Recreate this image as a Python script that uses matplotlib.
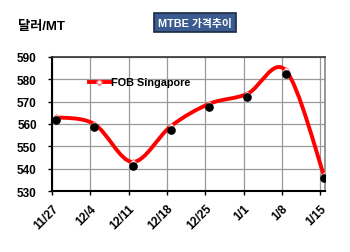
import matplotlib
matplotlib.use('Agg')
import matplotlib.pyplot as plt
from matplotlib.path import Path
from matplotlib.patches import PathPatch
from matplotlib.lines import Line2D
import numpy as np

dates = ['11/27', '12/4', '12/11', '12/18', '12/25', '1/1', '1/8', '1/15']
fob_line = [563, 560, 543, 559, 569, 573.5, 584, 537]      # smoothed red series
fob_marks = [562, 558.5, 541, 557.5, 567.5, 572, 582.5, 536]  # black markers

plt.rcParams['font.family'] = ['Liberation Sans', 'Noto Sans CJK KR', 'DejaVu Sans']

fig = plt.figure(figsize=(3.5, 2.53), dpi=100)
ax = fig.add_axes([0.149, 0.241, 0.78, 0.530])

x = np.arange(len(dates)) + 0.1

# smoothed line (Catmull-Rom -> cubic bezier, like excel smooth line)
pts = np.column_stack([x, fob_line])
ext = np.vstack([pts[0], pts, pts[-1]])
verts = [tuple(pts[0])]
codes = [Path.MOVETO]
for i in range(1, len(ext) - 2):
    p0, p1, p2, p3 = ext[i - 1], ext[i], ext[i + 1], ext[i + 2]
    c1 = p1 + (p2 - p0) / 6
    c2 = p2 - (p3 - p1) / 6
    verts += [tuple(c1), tuple(c2), tuple(p2)]
    codes += [Path.CURVE4] * 3
ax.add_patch(PathPatch(Path(verts, codes), fill=False, edgecolor='#ff0000', lw=2.8, zorder=3))
ax.plot(x, fob_line, ls='none', marker='D', ms=3, mfc='white', mec='#ff7777', mew=0.6, zorder=4)
ax.plot(x, fob_marks, ls='none', marker='o', ms=5.2, color='black', zorder=5)

ax.set_xlim(0, 7.13)
ax.set_ylim(530, 590)
ax.set_yticks(range(530, 591, 10))
ax.set_xticks(range(len(dates)))
ax.set_xticklabels(dates, rotation=45, ha='right', va='top', rotation_mode='anchor',
                   fontsize=8.5, fontweight='bold')
for lab in ax.get_yticklabels():
    lab.set_fontweight('bold')
    lab.set_fontsize(8.5)
ax.tick_params(axis='y', length=3, width=1, pad=8)
ax.tick_params(axis='x', length=3, width=1, pad=5)

ax.grid(True, color='#999999', lw=0.9)
ax.set_axisbelow(True)
ax.spines['top'].set_color('#333333')
ax.spines['top'].set_linewidth(1.2)
ax.spines['right'].set_color('#888888')
ax.spines['right'].set_linewidth(1.2)
for s in ['left', 'bottom']:
    ax.spines[s].set_color('black')
    ax.spines[s].set_linewidth(1.5)

handle = Line2D([], [], color='#ff0000', lw=2.8, marker='D', ms=3, mfc='white', mec='#ff7777')
ax.legend([handle], ['FOB Singapore'], loc='upper left', bbox_to_anchor=(0.1, 0.92),
          frameon=False, handlelength=1.9, handletextpad=0.15,
          prop={'weight': 'bold', 'size': 7.8})

fig.text(0.052, 0.895, '달러/MT', fontsize=9.5, fontweight='bold', ha='left', va='center')
fig.text(0.557, 0.907, 'MTBE 가격추이', fontsize=7.8, fontweight='bold', color='white',
         ha='center', va='center',
         bbox=dict(boxstyle='square,pad=0.4', fc='#3b5a8f', ec='#1a2a44', lw=1.2))

fig.savefig('out.png', dpi=100)
